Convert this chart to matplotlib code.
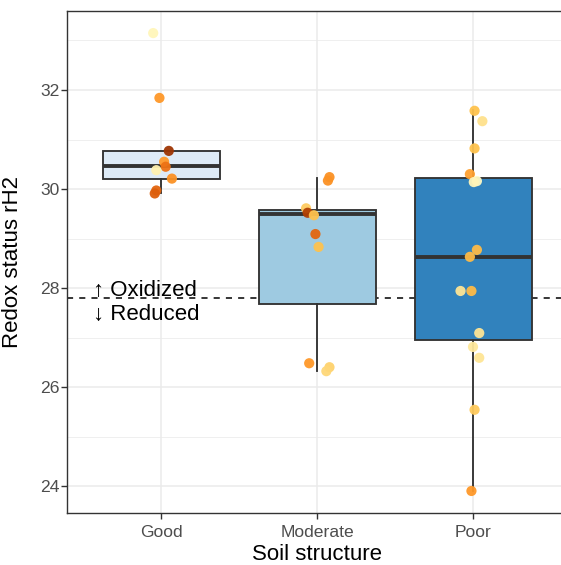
import matplotlib
matplotlib.use("Agg")
import matplotlib.pyplot as plt
import numpy as np
from matplotlib.ticker import MultipleLocator

# ---------------- data ----------------
categories = ["Good", "Moderate", "Poor"]
box_fills = ["#DEEBF7", "#9ECAE1", "#3182BD"]

# box statistics
whisker_lo = [29.91, 26.32, 23.90]
q1 = [30.20, 27.68, 26.95]
median = [30.46, 29.50, 28.63]
q3 = [30.77, 29.57, 30.22]
whisker_hi = [30.77, 30.22, 31.60]

# jittered points: values, horizontal jitter (category units), colour value (0-1 on YlOrBr)
good_vals = [33.15, 31.84, 30.77, 30.55, 30.45, 30.38, 30.21, 29.97, 29.91]
good_jit = [-0.05, -0.01, 0.05, 0.02, 0.03, -0.03, 0.07, -0.03, -0.04]
good_col = [0.13, 0.50, 0.86, 0.50, 0.62, 0.16, 0.52, 0.66, 0.68]

mod_vals = [30.24, 30.17, 29.61, 29.52, 29.47, 29.09, 28.83, 26.48, 26.40, 26.32]
mod_jit = [0.08, 0.07, -0.07, -0.06, -0.02, -0.01, 0.01, -0.05, 0.08, 0.06]
mod_col = [0.52, 0.52, 0.34, 0.82, 0.38, 0.66, 0.38, 0.50, 0.32, 0.30]

poor_vals = [31.58, 31.37, 30.82, 30.30, 30.16, 30.14, 28.77, 28.63,
             27.94, 27.94, 27.09, 26.81, 26.59, 25.54, 23.90]
poor_jit = [0.01, 0.06, 0.01, -0.02, 0.025, 0.005, 0.025, -0.02,
            -0.08, -0.01, 0.04, 0.0, 0.04, 0.01, -0.01]
poor_col = [0.38, 0.26, 0.38, 0.48, 0.10, 0.14, 0.40, 0.40,
            0.24, 0.40, 0.24, 0.22, 0.24, 0.35, 0.50]

threshold = 27.8
ylabel = "Redox status rH2"
xlabel = "Soil structure"
label_up = "\u2191 Oxidized"
label_down = "\u2193 Reduced"

# ---------------- plot ----------------
plt.rcParams['font.family'] = ['Liberation Sans', 'DejaVu Sans']
W, H = 561, 565
fig = plt.figure(figsize=(W / 100, H / 100), dpi=100)
ax = fig.add_axes([67.4 / W, 1 - 512.5 / H, 499.2 / W, 502 / H])

# threshold line (below boxes)
ax.axhline(threshold, color='black', linestyle=(0, (4, 4)), linewidth=1.1, zorder=1)

# boxes
stats = []
for i in range(3):
    stats.append(dict(whislo=whisker_lo[i], q1=q1[i], med=median[i],
                      q3=q3[i], whishi=whisker_hi[i], fliers=[]))
bp = ax.bxp(stats, positions=[1, 2, 3], widths=0.75, patch_artist=True,
            showfliers=False, showcaps=False,
            boxprops=dict(edgecolor='#333333', linewidth=1.35),
            whiskerprops=dict(color='#333333', linewidth=1.35),
            medianprops=dict(color='#333333', linewidth=2.8, solid_capstyle='butt'),
            zorder=2)
for patch, fc in zip(bp['boxes'], box_fills):
    patch.set_facecolor(fc)

# points
cmap = plt.get_cmap('YlOrBr')
groups = [(good_vals, good_jit, good_col),
          (mod_vals, mod_jit, mod_col),
          (poor_vals, poor_jit, poor_col)]
for i, (vals, jit, col) in enumerate(groups):
    xs = np.array(jit) + (i + 1)
    ax.scatter(xs, vals, s=54, c=[cmap(c) for c in col], edgecolors='none',
               alpha=0.95, zorder=3)

# annotations
ax.text(0.567, 27.95, label_up, fontsize=16, ha='left', va='center', zorder=4)
ax.text(0.567, 27.47, label_down, fontsize=16, ha='left', va='center', zorder=4)

# limits, ticks, grid
ax.set_xlim(0.4, 3.6)
ax.set_ylim(23.465, 33.606)
ax.yaxis.set_major_locator(MultipleLocator(2))
ax.yaxis.set_minor_locator(MultipleLocator(1))
ax.set_xticks([1, 2, 3])
ax.set_xticklabels(categories)
ax.grid(which='major', axis='both', color='#EBEBEB', linewidth=1.1, zorder=0)
ax.grid(which='minor', axis='y', color='#EBEBEB', linewidth=0.55, zorder=0)
ax.set_axisbelow(True)

# axes styling
for side in ['left', 'bottom', 'top', 'right']:
    ax.spines[side].set_color('#333333')
    ax.spines[side].set_linewidth(1.0)
ax.tick_params(which='major', length=4, width=1.0, color='#333333',
               labelsize=12.6, labelcolor='#4D4D4D')
ax.tick_params(axis='x', which='major', pad=5.0)
ax.tick_params(axis='y', which='major', pad=1.8)
ax.tick_params(which='minor', length=0)

ax.set_xlabel(xlabel, fontsize=16, color='black', labelpad=2.6)
ax.set_ylabel(ylabel, fontsize=16, color='black')
ax.yaxis.set_label_coords(-(67.4 - 23) / 499.2, 0.5)

fig.savefig("out.png", dpi=100)
